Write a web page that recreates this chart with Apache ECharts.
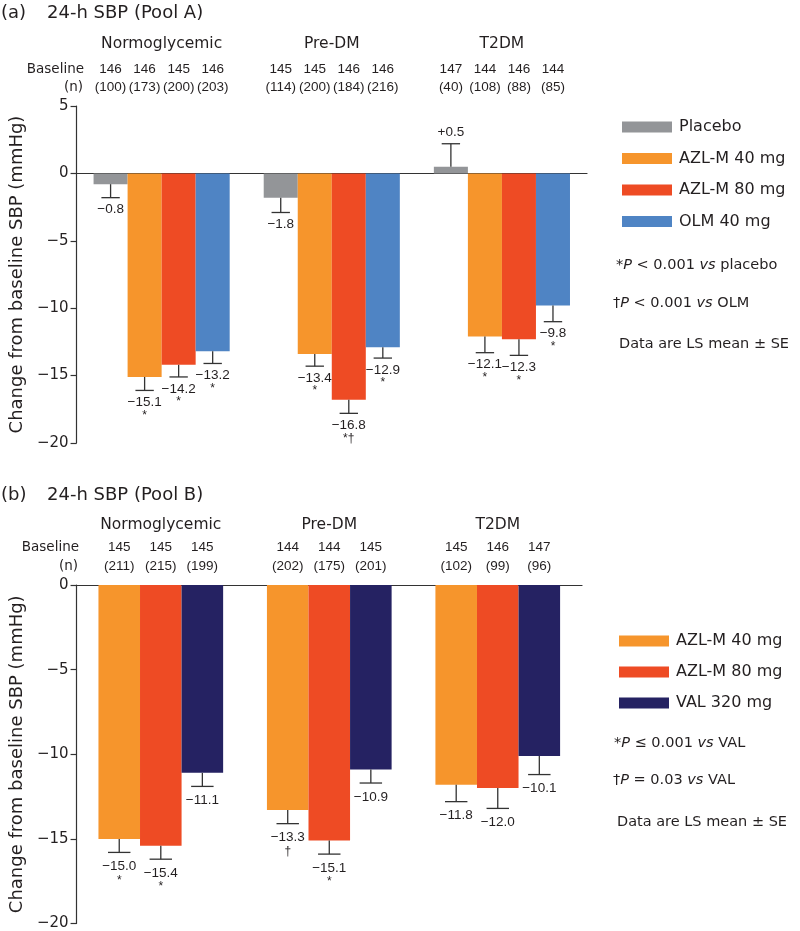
<!DOCTYPE html>
<html><head><meta charset="utf-8">
<script src="https://cdn.jsdelivr.net/npm/echarts@6/dist/echarts.min.js"></script>
<style>html,body{margin:0;padding:0;background:#fff}#c{width:800px;height:931px}</style>
</head><body><div id="c"></div>
<script>
const groups = ['Normoglycemic', 'Pre-DM', 'T2DM'];

// Panel A (Pool A)
const namesA = ['Placebo', 'AZL-M 40 mg', 'AZL-M 80 mg', 'OLM 40 mg'];
const colorsA = ['#939598', '#F6952C', '#EE4B24', '#4F84C4'];
const placeboA = [-0.8, -1.8, 0.5];
const azl40A = [-15.1, -13.4, -12.1];
const azl80A = [-14.2, -16.8, -12.3];
const olmA = [-13.2, -12.9, -9.8];
const sePlaceboA = [1.0, 1.1, 1.7];
const seAzl40A = [1.0, 0.9, 1.2];
const seAzl80A = [0.9, 1.0, 1.2];
const seOlmA = [0.9, 0.8, 1.2];
const labelsPlaceboA = ['\u22120.8', '\u22121.8', '+0.5'];
const labelsAzl40A = ['\u221215.1', '\u221213.4', '\u221212.1'];
const labelsAzl80A = ['\u221214.2', '\u221216.8', '\u221212.3'];
const labelsOlmA = ['\u221213.2', '\u221212.9', '\u22129.8'];
const sigPlaceboA = ['', '', ''];
const sigAzl40A = ['*', '*', '*'];
const sigAzl80A = ['*', '*\u2020', '*'];
const sigOlmA = ['*', '*', '*'];
const basePlaceboA = [146, 145, 147];
const baseAzl40A = [146, 145, 144];
const baseAzl80A = [145, 146, 146];
const baseOlmA = [146, 146, 144];
const nPlaceboA = [100, 114, 40];
const nAzl40A = [173, 200, 108];
const nAzl80A = [200, 184, 88];
const nOlmA = [203, 216, 85];
const yTicksA = [5, 0, -5, -10, -15, -20];

// Panel B (Pool B)
const namesB = ['AZL-M 40 mg', 'AZL-M 80 mg', 'VAL 320 mg'];
const colorsB = ['#F6952C', '#EE4B24', '#252262'];
const azl40B = [-15.0, -13.3, -11.8];
const azl80B = [-15.4, -15.1, -12.0];
const valB = [-11.1, -10.9, -10.1];
const seAzl40B = [0.8, 0.8, 1.0];
const seAzl80B = [0.8, 0.8, 1.2];
const seValB = [0.8, 0.8, 1.1];
const labelsAzl40B = ['\u221215.0', '\u221213.3', '\u221211.8'];
const labelsAzl80B = ['\u221215.4', '\u221215.1', '\u221212.0'];
const labelsValB = ['\u221211.1', '\u221210.9', '\u221210.1'];
const sigAzl40B = ['*', '\u2020', ''];
const sigAzl80B = ['*', '*', ''];
const sigValB = ['', '', ''];
const baseAzl40B = [145, 144, 145];
const baseAzl80B = [145, 144, 146];
const baseValB = [145, 145, 147];
const nAzl40B = [211, 202, 102];
const nAzl80B = [215, 175, 99];
const nValB = [199, 201, 96];
const yTicksB = [0, -5, -10, -15, -20];

const FONT = 'DejaVu Sans';
const NUMFONT = 'Liberation Sans';
const TXT = '#231f20';

const panelA = {
  values: [placeboA, azl40A, azl80A, olmA],
  se: [sePlaceboA, seAzl40A, seAzl80A, seOlmA],
  labels: [labelsPlaceboA, labelsAzl40A, labelsAzl80A, labelsOlmA],
  sig: [sigPlaceboA, sigAzl40A, sigAzl80A, sigOlmA],
  base: [basePlaceboA, baseAzl40A, baseAzl80A, baseOlmA],
  n: [nPlaceboA, nAzl40A, nAzl80A, nOlmA],
  names: namesA, colors: colorsA, gap: 0.2,
  ymin: Math.min(...yTicksA), ymax: Math.max(...yTicksA),
  capFrac: 0.54, lblOff: 12, sigOff: 13, titleOff: 62, baseOff: 37, nOff: 19
};
const panelB = {
  values: [azl40B, azl80B, valB],
  se: [seAzl40B, seAzl80B, seValB],
  labels: [labelsAzl40B, labelsAzl80B, labelsValB],
  sig: [sigAzl40B, sigAzl80B, sigValB],
  base: [baseAzl40B, baseAzl80B, baseValB],
  n: [nAzl40B, nAzl80B, nValB],
  names: namesB, colors: colorsB, gap: 0.26,
  ymin: Math.min(...yTicksB), ymax: Math.max(...yTicksB),
  capFrac: 0.54, lblOff: 14, sigOff: 14, titleOff: 60, baseOff: 38, nOff: 19
};

function barPos(api, cat, i, k, gap) {
  const band = api.size([1, 0])[0];
  const c = api.coord([cat, 0]);
  const total = band * (1 - gap);
  const w = total / k;
  return { x: c[0] - total / 2 + w * (i + 0.5), w: w };
}

function makeSeries(p, gi) {
  const out = [];
  const k = p.values.length;
  p.values.forEach((vals, i) => {
    out.push({
      type: 'bar', name: p.names[i], xAxisIndex: gi, yAxisIndex: gi,
      data: vals, barGap: '0%', barCategoryGap: (p.gap * 100) + '%',
      itemStyle: { color: p.colors[i] }, emphasis: { disabled: true }, z: 2
    });
    const data = vals.map((v, c) => [c, v, p.se[i][c], p.labels[i][c], p.sig[i][c], p.base[i][c], p.n[i][c]]);
    out.push({
      type: 'custom', name: 'err' + gi + '_' + i, xAxisIndex: gi, yAxisIndex: gi,
      data: data, z: 5, silent: true, clip: false,
      renderItem: function (params, api) {
        const cat = api.value(0), v = api.value(1), s = api.value(2);
        const d = data[params.dataIndex];
        const pos = barPos(api, cat, i, k, p.gap);
        const end = v < 0 ? v - s : v + s;
        const y0 = api.coord([cat, v])[1];
        const y1 = api.coord([cat, end])[1];
        const cw = pos.w * p.capFrac;
        const yTop = api.coord([cat, p.ymax])[1];
        const ls = { stroke: '#333333', lineWidth: 1.3 };
        const children = [
          { type: 'line', shape: { x1: pos.x, y1: y0, x2: pos.x, y2: y1 }, style: ls },
          { type: 'line', shape: { x1: pos.x - cw / 2, y1: y1, x2: pos.x + cw / 2, y2: y1 }, style: ls },
          { type: 'text', style: { text: d[3], x: pos.x, y: v < 0 ? y1 + p.lblOff : y1 - 11, align: 'center', verticalAlign: 'middle', font: '13.5px "' + NUMFONT + '"', fill: TXT } },
          { type: 'text', style: { text: String(d[5]), x: pos.x, y: yTop - p.baseOff, align: 'center', verticalAlign: 'middle', font: '13.5px "' + NUMFONT + '"', fill: TXT } },
          { type: 'text', style: { text: '(' + d[6] + ')', x: pos.x, y: yTop - p.nOff, align: 'center', verticalAlign: 'middle', font: '13.5px "' + NUMFONT + '"', fill: TXT } }
        ];
        if (d[4]) {
          children.push({ type: 'text', style: { text: d[4], x: pos.x, y: y1 + p.lblOff + p.sigOff, align: 'center', verticalAlign: 'middle', font: '12px "' + NUMFONT + '"', fill: TXT } });
        }
        return { type: 'group', children: children };
      }
    });
  });
  // group titles
  out.push({
    type: 'custom', name: 'hdr' + gi, xAxisIndex: gi, yAxisIndex: gi, silent: true, clip: false,
    data: groups.map((g, c) => [c, 0]), z: 5,
    renderItem: function (params, api) {
      const cat = api.value(0);
      const x = api.coord([cat, 0])[0];
      const yTop = api.coord([cat, p.ymax])[1];
      return { type: 'text', style: { text: groups[cat], x: x, y: yTop - p.titleOff, align: 'center', verticalAlign: 'middle', font: '15.5px "' + FONT + '"', fill: TXT } };
    }
  });
  return out;
}

function yAxis(gi, ticks) {
  return {
    type: 'value', gridIndex: gi, min: Math.min(...ticks), max: Math.max(...ticks), interval: 5,
    axisLine: { show: true, lineStyle: { color: '#333', width: 1.2 } },
    axisTick: { show: true, length: 6, lineStyle: { color: '#333', width: 1.2 } },
    splitLine: { show: false },
    axisLabel: { fontSize: 15, fontFamily: FONT, color: TXT, margin: 8,
      formatter: v => (v < 0 ? '\u2212' + Math.abs(v) : String(v)) },
    name: 'Change from baseline SBP (mmHg)', nameLocation: 'middle', nameGap: 49,
    nameTextStyle: { fontSize: 18, fontFamily: FONT, color: TXT }
  };
}
function xAxis(gi) {
  return {
    type: 'category', gridIndex: gi, data: groups,
    axisLine: { onZero: true, lineStyle: { color: '#333', width: 1.2 } },
    axisTick: { show: false }, axisLabel: { show: false }, splitLine: { show: false }
  };
}

function note(x, y, parts) {
  let txt = '';
  parts.forEach(p => { txt += '{' + (p[1] ? 'i' : 'n') + '|' + p[0] + '}'; });
  return {
    type: 'text', left: x, top: y - 10,
    style: {
      text: txt, fill: TXT,
      rich: {
        n: { fontFamily: FONT, fontSize: 14.5, fill: TXT, lineHeight: 20 },
        i: { fontFamily: FONT, fontSize: 14.5, fontStyle: 'italic', fill: TXT, lineHeight: 20 }
      }
    }
  };
}
function txt(x, y, t, size, align) {
  return { type: 'text', x: x, y: y, style: { text: t, font: size + 'px "' + FONT + '"', fill: TXT, align: align || 'left', verticalAlign: 'middle' } };
}

const chart = echarts.init(document.getElementById('c'), null, { renderer: 'canvas' });
chart.setOption({
  backgroundColor: '#fff',
  animation: false,
  grid: [
    { left: 73, right: 213, top: 106, bottom: 488 },
    { left: 73, right: 218, top: 585, bottom: 6 }
  ],
  xAxis: [xAxis(0), xAxis(1)],
  yAxis: [yAxis(0, yTicksA), yAxis(1, yTicksB)],
  legend: [
    { data: namesA, orient: 'vertical', left: 617, top: 112, itemWidth: 50, itemHeight: 11, itemGap: 11.5,
      icon: 'rect', selectedMode: false,
      textStyle: { fontFamily: FONT, fontSize: 16, color: TXT, lineHeight: 20, padding: [0, 0, 0, 2] } },
    { data: namesB, orient: 'vertical', left: 614, top: 626, itemWidth: 50, itemHeight: 11, itemGap: 11,
      icon: 'rect', selectedMode: false,
      textStyle: { fontFamily: FONT, fontSize: 16, color: TXT, lineHeight: 20, padding: [0, 0, 0, 2] } }
  ],
  graphic: [
    txt(1, 13, '(a)', 18), txt(47, 13, '24-h SBP (Pool A)', 18),
    txt(1, 495, '(b)', 18), txt(47, 495, '24-h SBP (Pool B)', 18),
    txt(84, 69, 'Baseline', 13.5, 'right'), txt(83, 87, '(n)', 13.5, 'right'),
    txt(79, 547, 'Baseline', 13.5, 'right'), txt(78, 566, '(n)', 13.5, 'right'),
    note(616, 268, [['*', false], ['P', true], [' < 0.001 ', false], ['vs', true], [' placebo', false]]),
    note(613, 306, [['\u2020', false], ['P', true], [' < 0.001 ', false], ['vs', true], [' OLM', false]]),
    note(619, 347, [['Data are LS mean \u00b1 SE', false]]),
    note(614, 746, [['*', false], ['P', true], [' \u2264 0.001 ', false], ['vs', true], [' VAL', false]]),
    note(613, 783, [['\u2020', false], ['P', true], [' = 0.03 ', false], ['vs', true], [' VAL', false]]),
    note(617, 825, [['Data are LS mean \u00b1 SE', false]])
  ],
  series: makeSeries(panelA, 0).concat(makeSeries(panelB, 1))
});
</script>
</body></html>
